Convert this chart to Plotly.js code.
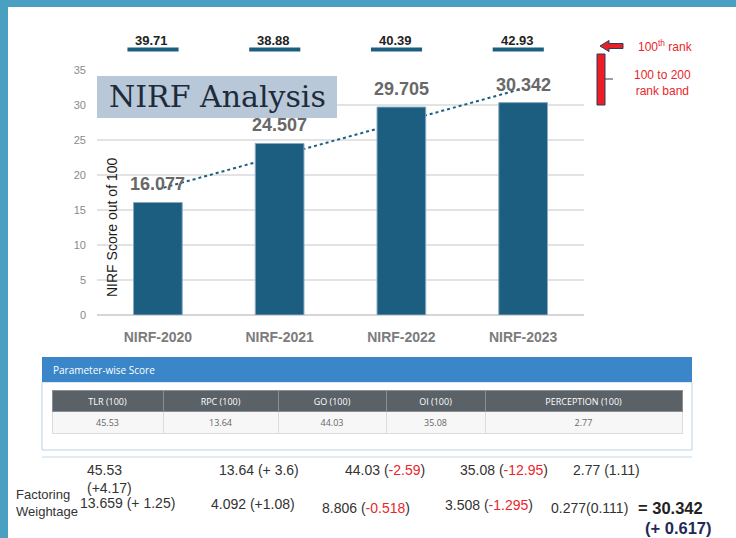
<!DOCTYPE html>
<html><head><meta charset="utf-8">
<script src="https://cdn.plot.ly/plotly-3.0.1.min.js"></script>
<style>html,body{margin:0;padding:0;background:#fff}#chart{width:736px;height:538px}</style>
</head><body><div id="chart"></div>
<script>
// ---- data ----
const years = ['NIRF-2020', 'NIRF-2021', 'NIRF-2022', 'NIRF-2023'];
const scores = [16.077, 24.507, 29.705, 30.342];
const rank100Scores = [39.71, 38.88, 40.39, 42.93];
const yTicks = [0, 5, 10, 15, 20, 25, 30, 35];
const paramNames = ['TLR (100)', 'RPC (100)', 'GO (100)', 'OI (100)', 'PERCEPTION (100)'];
const paramScores = ['45.53', '13.64', '44.03', '35.08', '2.77'];
const scoreChanges = ['+4.17', '+ 3.6', '-2.59', '-12.95', '1.11'];
const weightedScores = ['13.659', '4.092', '8.806', '3.508', '0.277'];
const weightedChanges = ['+ 1.25', '+1.08', '-0.518', '-1.295', '0.111'];
const totalScore = '30.342';
const totalChange = '+ 0.617';

// ---- helpers ----
const W = 736, H = 538;
const px = x => x / W;
const py = y => 1 - y / H;
const RED = '#e8262b';
const BLUE = '#1b5e80';
const FONT = 'Liberation Sans, Arial, sans-serif';

// linear trendline (least squares) through the bar values
const n = scores.length;
const mx = (n - 1) / 2;
const my = scores.reduce((a, b) => a + b, 0) / n;
let sxy = 0, sxx = 0;
scores.forEach((v, i) => { sxy += (i - mx) * (v - my); sxx += (i - mx) * (i - mx); });
const slope = sxy / sxx;
const trendStart = my - slope * mx;
const trendEnd = my + slope * (n - 1 - mx);

const colorChange = c => c.trim().startsWith('-') ? `<span style="color:${RED}">${c}</span>` : c;

const shapes = [];
const annotations = [];

// frame strips
shapes.push({type: 'rect', xref: 'paper', yref: 'paper', x0: 0, x1: px(8), y0: 0, y1: 1, fillcolor: '#4aa0c1', line: {width: 0}, layer: 'below'});
shapes.push({type: 'rect', xref: 'paper', yref: 'paper', x0: 0, x1: 1, y0: py(7), y1: 1, fillcolor: '#4aa0c1', line: {width: 0}, layer: 'below'});

// trendline behind bars
shapes.push({type: 'line', xref: 'x', yref: 'y', x0: years[0], y0: trendStart, x1: years[n - 1], y1: trendEnd,
  line: {color: BLUE, width: 2, dash: 'dot'}, layer: 'between'});

// data labels
scores.forEach((v, i) => annotations.push({
  xref: 'x', yref: 'y', x: years[i], y: v, yanchor: 'bottom', yshift: 6, showarrow: false,
  text: '<b>' + v.toFixed(3) + '</b>', font: {family: FONT, size: 18, color: '#686868'}
}));

// 100th-rank cutoff scores with underline
rank100Scores.forEach((v, i) => {
  annotations.push({xref: 'x', yref: 'paper', x: years[i], y: py(40), xshift: -6, showarrow: false,
    text: '<b>' + v.toFixed(2) + '</b>', font: {family: FONT, size: 13, color: '#222'}});
  shapes.push({type: 'line', xref: 'x', yref: 'paper', x0: i - 0.25, x1: i + 0.17, y0: py(49.5), y1: py(49.5),
    line: {color: BLUE, width: 4}});
});

// NIRF Analysis banner
shapes.push({type: 'rect', xref: 'paper', yref: 'paper', x0: px(97), x1: px(337), y0: py(118), y1: py(76),
  fillcolor: '#b8c8d8', line: {width: 0}, layer: 'above'});
annotations.push({xref: 'paper', yref: 'paper', x: px(217), y: py(96), showarrow: false,
  text: 'NIRF Analysis', font: {family: 'DejaVu Serif, serif', size: 30, color: '#1d2b3a'}});

// y-axis title (inside plot)
annotations.push({xref: 'paper', yref: 'paper', x: px(112), y: py(227), showarrow: false, textangle: -90,
  text: 'NIRF Score out of 100', font: {family: FONT, size: 14, color: '#1a1a1a'}});

// red arrow + band
shapes.push({type: 'path', xref: 'paper', yref: 'paper',
  path: `M${px(600)},${py(46)} L${px(609)},${py(40.5)} L${px(609)},${py(43.5)} L${px(623)},${py(43.5)} L${px(623)},${py(48.5)} L${px(609)},${py(48.5)} L${px(609)},${py(51.5)} Z`,
  fillcolor: '#e52228', line: {color: '#2b3f5a', width: 1}});
shapes.push({type: 'rect', xref: 'paper', yref: 'paper', x0: px(597), x1: px(605), y0: py(105), y1: py(54),
  fillcolor: '#ee1c25', line: {color: '#2b3f5a', width: 1}});
shapes.push({type: 'line', xref: 'paper', yref: 'paper', x0: px(605), x1: px(613), y0: py(79), y1: py(79),
  line: {color: '#2b3f5a', width: 1}});
annotations.push({xref: 'paper', yref: 'paper', x: px(665), y: py(46), showarrow: false,
  text: '100<sup>th</sup> rank', font: {family: FONT, size: 12, color: RED}});
annotations.push({xref: 'paper', yref: 'paper', x: px(662), y: py(83), showarrow: false,
  text: '100 to 200<br>rank band', font: {family: FONT, size: 12, color: RED}});

// parameter-wise panel
shapes.push({type: 'rect', xref: 'paper', yref: 'paper', x0: px(42), x1: px(692), y0: py(450), y1: py(382),
  fillcolor: '#ffffff', line: {color: '#b9d2ea', width: 1}, layer: 'below'});
shapes.push({type: 'rect', xref: 'paper', yref: 'paper', x0: px(42), x1: px(692), y0: py(382), y1: py(357),
  fillcolor: '#3a86c8', line: {width: 0}, layer: 'below'});
shapes.push({type: 'line', xref: 'paper', yref: 'paper', x0: px(42), x1: px(692), y0: py(457), y1: py(457),
  line: {color: '#c5d5e6', width: 1}});
annotations.push({xref: 'paper', yref: 'paper', x: px(51), y: py(369.5), xanchor: 'left', showarrow: false,
  text: 'Parameter-wise Score', font: {family: 'Open Sans, sans-serif', size: 10, color: '#ffffff'}});

// bottom text rows
const row1X = [85, 217, 343, 458, 571];
const row1Y = [478.5, 470, 470, 470, 470];
const row1Sep = ['<br>', ' ', ' ', ' ', ' '];
paramScores.forEach((s, i) => annotations.push({xref: 'paper', yref: 'paper', x: px(row1X[i]), y: py(row1Y[i]),
  xanchor: 'left', align: 'left', showarrow: false,
  text: `${s}${row1Sep[i]}(${colorChange(scoreChanges[i])})`, font: {family: FONT, size: 14, color: '#333'}}));

const row2X = [78, 209, 320, 443, 549];
const row2Y = [503, 504, 508, 505, 508];
const row2Sep = [' ', ' ', ' ', ' ', ''];
weightedScores.forEach((s, i) => annotations.push({xref: 'paper', yref: 'paper', x: px(row2X[i]), y: py(row2Y[i]),
  xanchor: 'left', align: 'left', showarrow: false,
  text: `${s}${row2Sep[i]}(${colorChange(weightedChanges[i])})`, font: {family: FONT, size: 14, color: '#333'}}));

annotations.push({xref: 'paper', yref: 'paper', x: px(14), y: py(503), xanchor: 'left', align: 'left', showarrow: false,
  text: 'Factoring<br>Weightage', font: {family: FONT, size: 13, color: '#333'}});
annotations.push({xref: 'paper', yref: 'paper', x: px(636), y: py(508), xanchor: 'left', showarrow: false,
  text: '<b>= ' + totalScore + '</b>', font: {family: FONT, size: 16.5, color: '#222'}});
annotations.push({xref: 'paper', yref: 'paper', x: px(643), y: py(527.5), xanchor: 'left', showarrow: false,
  text: '<b>(' + totalChange + ')</b>', font: {family: FONT, size: 16.5, color: '#1f2a55'}});

const finalAnnotations = annotations.map(a => Object.assign({xanchor: 'center', yanchor: 'middle'}, a));

const traces = [
  {type: 'bar', x: years, y: scores, marker: {color: BLUE, line: {color: '#88aac4', width: 1}}, hoverinfo: 'none'},
  {type: 'table', domain: {x: [px(52), px(682)], y: [py(440), py(390)]},
    columnwidth: [111, 115, 108, 99, 197],
    header: {values: paramNames, fill: {color: '#5a6167'}, align: 'center', height: 21,
      font: {family: 'Open Sans, sans-serif', size: 9, color: '#ffffff'}, line: {color: '#8a9096', width: 1}},
    cells: {values: paramScores.map(v => [v]), fill: {color: '#f7f7f7'}, align: 'center', height: 22,
      font: {family: 'Open Sans, sans-serif', size: 9, color: '#666'}, line: {color: '#dcdcdc', width: 1}}}
];

const layout = {
  width: W, height: H, margin: {l: 0, r: 0, t: 0, b: 0},
  paper_bgcolor: '#ffffff', plot_bgcolor: '#ffffff', showlegend: false,
  bargap: 0.6,
  xaxis: {type: 'category', domain: [px(97), px(584)], showgrid: false, showline: false, ticks: '',
    tickfont: {family: FONT, size: 14, color: '#7c7c7c', weight: 'bold'}, ticklabelstandoff: 12, fixedrange: true},
  yaxis: {domain: [py(315), py(70)], range: [0, 35], tickvals: yTicks, showgrid: true, gridcolor: '#e3e3e3', gridwidth: 1.5,
    zeroline: true, zerolinecolor: '#d6d6d6', zerolinewidth: 1.5, showline: false, ticks: '',
    tickfont: {family: FONT, size: 11, color: '#8a8a8a'}, ticklabelstandoff: 10, fixedrange: true},
  shapes: shapes,
  annotations: finalAnnotations
};

Plotly.newPlot('chart', traces, layout, {staticPlot: true, displayModeBar: false});
</script>
</body></html>
